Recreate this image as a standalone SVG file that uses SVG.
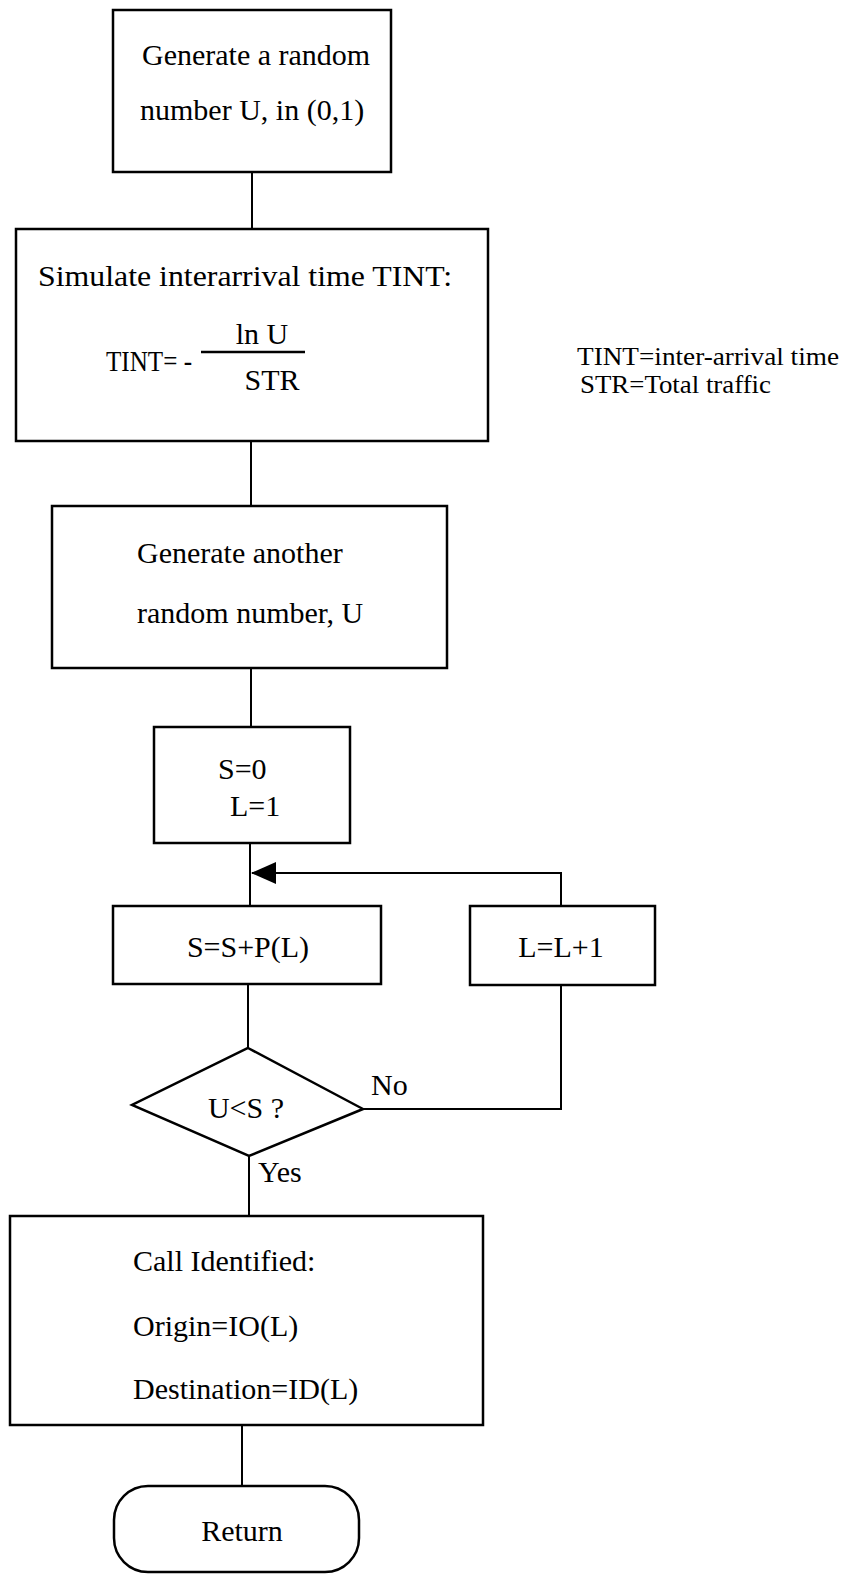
<svg xmlns="http://www.w3.org/2000/svg" width="851" height="1576" viewBox="0 0 851 1576">
  <style>
    .box { fill: #fff; stroke: #000; stroke-width: 2.5; }
    .wire { fill: none; stroke: #000; stroke-width: 2; }
    text { font-family: "Liberation Serif", "Times New Roman", serif; font-size: 30px; fill: #000; }
    .mid { text-anchor: middle; }
    .note { font-size: 25px; }
  </style>
  <rect width="851" height="1576" fill="#fff"/>

  <!-- connectors -->
  <g id="connectors">
    <line class="wire" x1="252" y1="172" x2="252" y2="229"/>
    <line class="wire" x1="251" y1="441" x2="251" y2="506"/>
    <line class="wire" x1="251" y1="668" x2="251" y2="727"/>
    <line class="wire" x1="250" y1="843" x2="250" y2="906"/>
    <!-- loop back from L=L+1 -->
    <polyline class="wire" points="561,906 561,873 252,873"/>
    <path d="M251,873 L276,862 L276,884 Z" fill="#000"/>
    <line class="wire" x1="248" y1="984" x2="248" y2="1048"/>
    <!-- No branch -->
    <polyline class="wire" points="363,1109 561,1109 561,985"/>
    <line class="wire" x1="249" y1="1156" x2="249" y2="1216"/>
    <line class="wire" x1="242" y1="1425" x2="242" y2="1486"/>
  </g>

  <g id="generate-u">
    <rect class="box" x="113" y="10" width="278" height="162"/>
    <text x="142" y="65">Generate a random</text>
    <text x="140" y="120">number U, in (0,1)</text>
  </g>

  <g id="interarrival">
    <rect class="box" x="16" y="229" width="472" height="212"/>
    <text x="38" y="286" textLength="414" lengthAdjust="spacingAndGlyphs">Simulate interarrival time TINT:</text>
    <text x="106" y="371" textLength="86" lengthAdjust="spacingAndGlyphs">TINT= -</text>
    <text x="262" y="344" class="mid">ln U</text>
    <line x1="201" y1="352" x2="305" y2="352" stroke="#000" stroke-width="2.5"/>
    <text x="272" y="390" class="mid">STR</text>
  </g>

  <g id="legend">
    <text class="note" x="577" y="365" textLength="262" lengthAdjust="spacingAndGlyphs">TINT=inter-arrival time</text>
    <text class="note" x="580" y="393" textLength="191" lengthAdjust="spacingAndGlyphs">STR=Total traffic</text>
  </g>

  <g id="generate-another">
    <rect class="box" x="52" y="506" width="395" height="162"/>
    <text x="137" y="563">Generate another</text>
    <text x="137" y="623">random number, U</text>
  </g>

  <g id="init">
    <rect class="box" x="154" y="727" width="196" height="116"/>
    <text x="218" y="779">S=0</text>
    <text x="230" y="816">L=1</text>
  </g>

  <g id="accumulate">
    <rect class="box" x="113" y="906" width="268" height="78"/>
    <text x="248" y="957" class="mid">S=S+P(L)</text>
  </g>

  <g id="increment">
    <rect class="box" x="470" y="906" width="185" height="79"/>
    <text x="561" y="957" class="mid">L=L+1</text>
  </g>

  <g id="decision">
    <polygon class="box" points="248,1048 363,1109 249,1156 132,1105"/>
    <text x="246" y="1118" class="mid">U&lt;S ?</text>
    <text x="371" y="1095">No</text>
    <text x="258" y="1182">Yes</text>
  </g>

  <g id="identified">
    <rect class="box" x="10" y="1216" width="473" height="209"/>
    <text x="133" y="1271">Call Identified:</text>
    <text x="133" y="1336">Origin=IO(L)</text>
    <text x="133" y="1399">Destination=ID(L)</text>
  </g>

  <g id="return">
    <rect class="box" x="114" y="1486" width="245" height="86" rx="34" ry="34"/>
    <text x="242" y="1541" class="mid">Return</text>
  </g>
</svg>
